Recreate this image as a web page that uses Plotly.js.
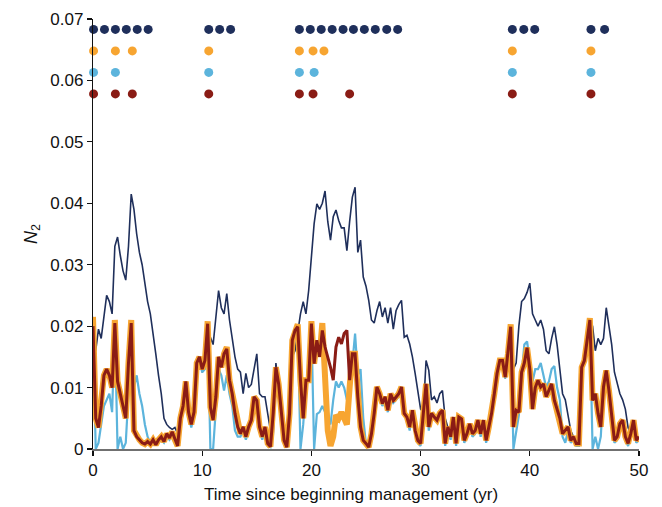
<!DOCTYPE html>
<html>
<head>
<meta charset="utf-8">
<script src="https://cdn.plot.ly/plotly-3.0.1.min.js"></script>
<style>
  html, body { margin: 0; padding: 0; background: #fff; }
  #chart { width: 662px; height: 507px; }
</style>
</head>
<body>
<div id="chart"></div>
<script>
// Sampling step of the N2 trajectories (years)
const STEP = 0.25;

// N2 trajectories, one value every 0.25 yr from 0 to 50 yr
const navyN2 = [
  21.5e-3,16e-3,19.5e-3,18e-3,21.5e-3,25e-3,24e-3,22e-3,33e-3,34.5e-3,31.5e-3,29e-3,27.5e-3,33e-3,41.5e-3,39e-3,35e-3,32e-3,30e-3,27e-3,
  24e-3,22e-3,19e-3,15.5e-3,12e-3,9e-3,5e-3,4e-3,3.5e-3,3.2e-3,3.5e-3,2.5e-3,4.5e-3,6.5e-3,10.5e-3,6.5e-3,4e-3,5.5e-3,13.5e-3,14.5e-3,
  12.5e-3,13.5e-3,15e-3,18.2e-3,17e-3,21e-3,25.8e-3,23e-3,22e-3,25.3e-3,21e-3,18e-3,15e-3,13e-3,12.5e-3,9e-3,12.3e-3,10e-3,10.5e-3,13e-3,
  15.5e-3,9e-3,8.5e-3,8.5e-3,6e-3,3e-3,2e-3,14e-3,10e-3,6e-3,1e-3,0.3e-3,5.5e-3,15e-3,16e-3,19e-3,22e-3,24e-3,22e-3,25.8e-3,
  31e-3,36.7e-3,39.9e-3,39e-3,40e-3,42e-3,37e-3,34e-3,37.8e-3,38.9e-3,37.2e-3,36e-3,36e-3,32.3e-3,37e-3,41e-3,42.6e-3,32e-3,34e-3,28e-3,
  26.5e-3,24.2e-3,21e-3,20.5e-3,22.5e-3,24e-3,21.5e-3,23e-3,20.5e-3,23e-3,19.5e-3,22.5e-3,23.5e-3,24.2e-3,18.2e-3,18.5e-3,17.1e-3,15e-3,12.3e-3,9e-3,
  6.5e-3,6e-3,14.4e-3,12.8e-3,8e-3,8.5e-3,7.5e-3,9e-3,9.5e-3,5e-3,3.3e-3,2e-3,5e-3,0.8e-3,5e-3,4.7e-3,1.3e-3,2.4e-3,4e-3,2.4e-3,
  3e-3,4.6e-3,2.4e-3,4.6e-3,1.3e-3,3.5e-3,5.7e-3,9e-3,12.2e-3,14e-3,14.5e-3,11.5e-3,15.5e-3,19.5e-3,13e-3,14e-3,20e-3,24e-3,24.5e-3,25.5e-3,
  27e-3,22e-3,21e-3,20e-3,21e-3,19.5e-3,16e-3,15.5e-3,18e-3,19.9e-3,17e-3,13.3e-3,9e-3,8e-3,5.8e-3,3e-3,2e-3,0.8e-3,0.8e-3,13e-3,
  14e-3,17.5e-3,21e-3,20e-3,16e-3,18e-3,17e-3,18e-3,23e-3,20e-3,17e-3,12.5e-3,10.5e-3,9e-3,8e-3,6.5e-3,3.5e-3,2.4e-3,4.6e-3,1.3e-3,
  1.9e-3
];

const blueN2 = [
  19e-3,0,1e-3,4e-3,7e-3,8e-3,9e-3,6e-3,20e-3,0,2e-3,0,1e-3,9e-3,15e-3,10e-3,12e-3,9e-3,7e-3,4e-3,
  2e-3,1e-3,1e-3,0.7e-3,1e-3,1.5e-3,1e-3,2e-3,1.5e-3,2.5e-3,1.5e-3,0.5e-3,5e-3,6.5e-3,10.5e-3,5.5e-3,3.5e-3,5.5e-3,13.5e-3,14.5e-3,
  12.5e-3,13e-3,20e-3,0,0,7e-3,13e-3,12e-3,9.5e-3,12e-3,9e-3,7e-3,3e-3,2e-3,2e-3,3e-3,1.5e-3,3e-3,4.5e-3,8e-3,
  7.5e-3,3e-3,1.5e-3,3e-3,0.5e-3,0.3e-3,5e-3,13e-3,10e-3,6e-3,1e-3,0.2e-3,5.5e-3,17e-3,19e-3,19.5e-3,0,4e-3,10e-3,14e-3,
  20e-3,0,5.7e-3,6e-3,7e-3,6e-3,5e-3,4e-3,8e-3,11e-3,10e-3,11e-3,10e-3,8e-3,9e-3,14e-3,18.8e-3,12e-3,13e-3,5e-3,
  0.8e-3,0.3e-3,2e-3,5.5e-3,10e-3,8.5e-3,7e-3,8e-3,6e-3,8.5e-3,7.5e-3,8e-3,8.5e-3,10e-3,5.5e-3,5e-3,3e-3,6e-3,2.5e-3,1e-3,
  0.5e-3,5.5e-3,10e-3,3e-3,5.5e-3,5e-3,4.5e-3,5.5e-3,6e-3,0.5e-3,3e-3,1.5e-3,5e-3,0.5e-3,5e-3,4.5e-3,1e-3,2e-3,4e-3,2e-3,
  2.5e-3,4.5e-3,2e-3,4.5e-3,1e-3,3e-3,5.5e-3,8.5e-3,12e-3,14e-3,14e-3,11.5e-3,15e-3,19.5e-3,0,3e-3,5.5e-3,12e-3,17e-3,17.5e-3,
  14e-3,11e-3,13e-3,13e-3,14e-3,12e-3,10e-3,11e-3,13e-3,13.5e-3,10e-3,8e-3,2e-3,1e-3,3e-3,1e-3,1.5e-3,0.5e-3,0.5e-3,13e-3,
  14e-3,17.5e-3,20.5e-3,0,2e-3,0,2e-3,10e-3,12.5e-3,9e-3,5e-3,1e-3,1.5e-3,4e-3,4.5e-3,1.5e-3,0.5e-3,2e-3,4.5e-3,1e-3,
  1.5e-3
];

const orangeN2 = [
  21.5e-3,5e-3,3.5e-3,7e-3,12e-3,13e-3,12e-3,10e-3,21e-3,11e-3,9e-3,7e-3,5e-3,14e-3,21e-3,3e-3,2e-3,1.5e-3,1e-3,0.8e-3,
  1.2e-3,0.8e-3,1.5e-3,0.7e-3,1.5e-3,2e-3,1.2e-3,2.5e-3,1.8e-3,2.8e-3,1.5e-3,0.5e-3,5e-3,7e-3,11e-3,6e-3,4e-3,6e-3,14e-3,15e-3,
  13e-3,14.4e-3,20.8e-3,6.8e-3,4.7e-3,8.5e-3,15e-3,13.3e-3,15.5e-3,16.6e-3,11.2e-3,9e-3,5.8e-3,3.6e-3,2.5e-3,3.6e-3,2e-3,3.6e-3,4.7e-3,8.5e-3,
  7.9e-3,3.6e-3,2e-3,3.6e-3,0.9e-3,0.4e-3,5.8e-3,13.3e-3,10.6e-3,6.3e-3,1.4e-3,0.3e-3,5.8e-3,17.7e-3,19.3e-3,20.3e-3,11.2e-3,5e-3,11.2e-3,11.2e-3,
  20.8e-3,13.9e-3,17.7e-3,15e-3,20.5e-3,13e-3,3e-3,0.5e-3,2e-3,5.5e-3,5e-3,6e-3,5e-3,4e-3,10e-3,15.5e-3,15.5e-3,8.5e-3,3.6e-3,1.4e-3,
  0.9e-3,0.3e-3,2.5e-3,5.8e-3,10.1e-3,9e-3,7.4e-3,8.5e-3,6.3e-3,9e-3,7.9e-3,8.5e-3,9e-3,10.1e-3,5.8e-3,5.2e-3,3.6e-3,6.3e-3,3e-3,1.4e-3,
  0.9e-3,5.8e-3,10.6e-3,3.6e-3,5.8e-3,5.2e-3,4.7e-3,5.8e-3,6.3e-3,0.9e-3,3.6e-3,2e-3,5.2e-3,0.9e-3,5.2e-3,4.9e-3,1.4e-3,2.5e-3,4.1e-3,2.5e-3,
  3e-3,4.7e-3,2.5e-3,4.7e-3,1.4e-3,3.6e-3,5.8e-3,9e-3,12.3e-3,14.4e-3,14.4e-3,11.7e-3,15.5e-3,20.3e-3,3.6e-3,6.3e-3,6e-3,12.5e-3,14e-3,16.5e-3,
  13e-3,6.5e-3,10e-3,11.2e-3,10.1e-3,10.6e-3,8.5e-3,9.5e-3,10.6e-3,7.9e-3,6.3e-3,5e-3,2.5e-3,3e-3,3.6e-3,1.4e-3,2e-3,0.9e-3,0.9e-3,13.3e-3,
  14.4e-3,17.7e-3,21.3e-3,7.9e-3,9e-3,5.8e-3,3.6e-3,10.1e-3,12.8e-3,9.5e-3,5.2e-3,1.4e-3,2e-3,4.1e-3,4.7e-3,2e-3,0.9e-3,2.5e-3,4.7e-3,1.4e-3,
  2e-3
];

const redN2 = [
  20e-3,5e-3,3.5e-3,7e-3,12e-3,13e-3,12e-3,10e-3,20.5e-3,11e-3,9e-3,7e-3,5e-3,14e-3,20.5e-3,3e-3,2e-3,1.5e-3,1e-3,0.8e-3,
  1.2e-3,0.8e-3,1.5e-3,0.7e-3,1.5e-3,2e-3,1.2e-3,2.5e-3,1.8e-3,2.8e-3,1.5e-3,0.5e-3,5e-3,7e-3,11e-3,6e-3,4e-3,6e-3,14e-3,15e-3,
  13e-3,14.4e-3,20.4e-3,6.8e-3,4.7e-3,8.5e-3,15e-3,13.3e-3,15.5e-3,16.3e-3,11.2e-3,9e-3,5.8e-3,3.6e-3,2.5e-3,3.6e-3,2e-3,3.6e-3,4.7e-3,8.5e-3,
  7.9e-3,3.6e-3,2e-3,3.6e-3,0.9e-3,0.4e-3,5.8e-3,13.3e-3,10.6e-3,6.3e-3,1.4e-3,0.3e-3,5.8e-3,17.7e-3,19.3e-3,19.9e-3,11.2e-3,5e-3,11.2e-3,11.2e-3,
  20.4e-3,13.9e-3,17.7e-3,15e-3,19.3e-3,16.6e-3,15e-3,13.3e-3,11.2e-3,16.6e-3,18.2e-3,17.1e-3,18.8e-3,19.3e-3,11.2e-3,15.5e-3,15.5e-3,8.5e-3,3.6e-3,1.4e-3,
  0.9e-3,0.3e-3,2.5e-3,5.8e-3,10.1e-3,9e-3,7.4e-3,8.5e-3,6.3e-3,9e-3,7.9e-3,8.5e-3,9e-3,10.1e-3,5.8e-3,5.2e-3,3.6e-3,6.3e-3,3e-3,1.4e-3,
  0.9e-3,5.8e-3,10.6e-3,3.6e-3,5.8e-3,5.2e-3,4.7e-3,5.8e-3,6.3e-3,0.9e-3,3.6e-3,2e-3,5.2e-3,0.9e-3,5.2e-3,4.9e-3,1.4e-3,2.5e-3,4.1e-3,2.5e-3,
  3e-3,4.7e-3,2.5e-3,4.7e-3,1.4e-3,3.6e-3,5.8e-3,9e-3,12.3e-3,14.4e-3,14.4e-3,11.7e-3,15.5e-3,19.9e-3,3.6e-3,6.3e-3,6e-3,12.5e-3,14e-3,16.5e-3,
  13e-3,6.5e-3,10e-3,11.2e-3,10.1e-3,10.6e-3,8.5e-3,9.5e-3,10.6e-3,7.9e-3,6.3e-3,5e-3,2.5e-3,3e-3,3.6e-3,1.4e-3,2e-3,0.9e-3,0.9e-3,13.3e-3,
  14.4e-3,17.7e-3,21e-3,7.9e-3,9e-3,5.8e-3,3.6e-3,10.1e-3,12.8e-3,9.5e-3,5.2e-3,1.4e-3,2e-3,4.1e-3,4.7e-3,2e-3,0.9e-3,2.5e-3,4.7e-3,1.4e-3,
  2e-3
];

// Management events (yr) for each strategy, shown as dot rows above the curves
const navyEvents   = [0.05, 1.05, 2.05, 3.05, 4.05, 5.05, 10.6, 11.6, 12.6,
                      18.9, 19.9, 20.9, 21.9, 22.9, 23.85, 24.85, 25.85, 26.9, 27.9,
                      38.4, 39.45, 40.45, 45.6, 46.85];
const orangeEvents = [0.05, 2.05, 3.6, 10.6, 18.9, 20.15, 21.15, 38.4, 45.6];
const blueEvents   = [0.05, 2.05, 10.6, 18.9, 20.25, 38.4, 45.6];
const redEvents    = [0.05, 2.05, 3.6, 10.6, 18.9, 20.15, 23.5, 38.4, 45.6];

// Axis ticks and titles
const xTicks = [0, 10, 20, 30, 40, 50];
const yTicks = [0, 0.01, 0.02, 0.03, 0.04, 0.05, 0.06, 0.07];
const yTickText = ['0', '0.01', '0.02', '0.03', '0.04', '0.05', '0.06', '0.07'];
const xTitle = 'Time since beginning management (yr)';
const yTitle = '<i>N</i><sub>2</sub>';

const COLORS = {
  navy: '#1f2f5b',
  blue: '#5cb4dc',
  orange: '#f7a531',
  red: '#8a1c15'
};

const time = navyN2.map((_, i) => i * STEP);

function curve(y, color, width) {
  return {
    x: time, y: y, type: 'scatter', mode: 'lines',
    line: { color: color, width: width, shape: 'linear' },
    hoverinfo: 'skip', showlegend: false
  };
}

function dotRow(events, level, color) {
  return {
    x: events, y: events.map(() => level), type: 'scatter', mode: 'markers',
    marker: { color: color, size: 9, line: { width: 0 } },
    cliponaxis: false, hoverinfo: 'skip', showlegend: false
  };
}

const traces = [
  curve(navyN2, COLORS.navy, 1.6),
  curve(blueN2, COLORS.blue, 2.2),
  curve(orangeN2, COLORS.orange, 6),
  curve(redN2, COLORS.red, 3),
  dotRow(navyEvents, 0.0683, COLORS.navy),
  dotRow(orangeEvents, 0.0648, COLORS.orange),
  dotRow(blueEvents, 0.0613, COLORS.blue),
  dotRow(redEvents, 0.0578, COLORS.red)
];

const FONT = 'Liberation Sans, Arial, Helvetica, sans-serif';
const TEXT = '#111';

const layout = {
  width: 662,
  height: 507,
  margin: { l: 93, r: 23, t: 19, b: 58 },
  paper_bgcolor: '#fff',
  plot_bgcolor: '#fff',
  font: { family: FONT, size: 17, color: TEXT },
  showlegend: false,
  xaxis: {
    range: [0, 50],
    tickvals: xTicks,
    ticktext: xTicks.map(String),
    ticks: 'outside', ticklen: 5, tickwidth: 1.2, tickcolor: '#111',
    showline: true, linecolor: '#707070', linewidth: 1.5,
    showgrid: false, zeroline: false,
    tickfont: { family: FONT, size: 17, color: TEXT }
  },
  yaxis: {
    range: [0, 0.07],
    tickvals: yTicks,
    ticktext: yTickText,
    ticks: 'outside', ticklen: 5, tickwidth: 1.2, tickcolor: '#111',
    showline: true, linecolor: '#111', linewidth: 1.2,
    showgrid: false, zeroline: false,
    tickfont: { family: FONT, size: 17, color: TEXT },
    title: { text: yTitle, font: { family: FONT, size: 18, color: TEXT }, standoff: 8 }
  },
  annotations: [{
    // x-axis title, set slightly left of the plot centre
    text: xTitle, xref: 'paper', yref: 'paper',
    x: 0.473, y: -0.105, xanchor: 'center', yanchor: 'middle',
    showarrow: false, font: { family: FONT, size: 17, color: TEXT }
  }]
};

Plotly.newPlot('chart', traces, layout, { staticPlot: true, displayModeBar: false });
</script>
</body>
</html>
